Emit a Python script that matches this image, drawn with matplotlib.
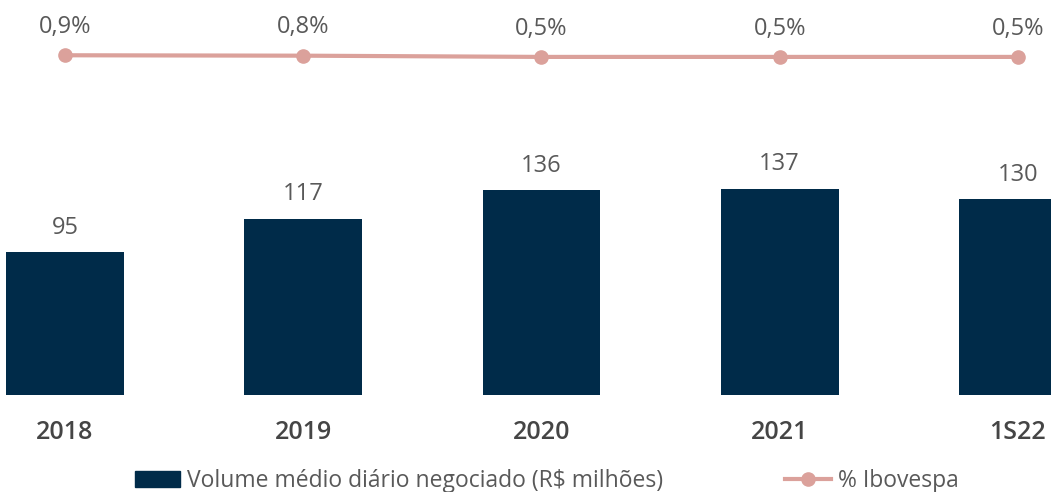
import numpy as np
import matplotlib.pyplot as plt
from matplotlib.lines import Line2D
from matplotlib.patches import Patch

# data
years = ['2018', '2019', '2020', '2021', '1S22']
volume = [95, 117, 136, 137, 130]
ibov_pct = [0.9, 0.8, 0.5, 0.5, 0.5]
pct_labels = ['0,9%', '0,8%', '0,5%', '0,5%', '0,5%']

navy = '#002B49'
pink = '#DBA19B'
grey = '#595959'

plt.rcParams['font.family'] = ['Open Sans', 'DejaVu Sans']

fig = plt.figure(figsize=(10.51, 4.92), dpi=100)
ax = fig.add_axes([0, 0, 1, 1])
x = np.arange(len(years))

ax.bar(x, volume, width=0.495, color=navy)
for xi, v in zip(x, volume):
    ax.annotate(str(v), (xi, v), xytext=(0, 9), textcoords='offset points',
                ha='center', va='bottom', fontsize=17, color=grey)
for xi, yr in zip(x, years):
    ax.text(xi, -24.6, yr, ha='center', va='center', fontsize=18,
            color='#454545', fontweight='semibold')

ax.set_xlim(-0.273, 4.139)
ax.set_ylim(-64.4, 262.5)
ax.axis('off')

# percentage line on its own scale
ax2 = ax.twinx()
ax2.plot(x, ibov_pct, color=pink, lw=3, marker='o', ms=9.5)
for xi, v, lab in zip(x, ibov_pct, pct_labels):
    ax2.annotate(lab, (xi, v), xytext=(0, 16), textcoords='offset points',
                 ha='center', va='baseline', fontsize=17, color=grey)
ax2.set_ylim(0.7 - 0.886 * 120, 0.7 + 0.114 * 120)
ax2.axis('off')

handles = [Patch(color=navy),
           Line2D([0], [0], color=pink, lw=3, marker='o', ms=9.5)]
labels = ['Volume médio diário negociado (R$ milhões)', '% Ibovespa']
ax.legend(handles, labels, loc='center', bbox_to_anchor=(0.52, 0.022), ncol=2,
          frameon=False, fontsize=16.5, labelcolor=grey, columnspacing=5.3,
          handlelength=2.0, handletextpad=0.3, borderpad=0)

fig.savefig('out.png', dpi=100)
